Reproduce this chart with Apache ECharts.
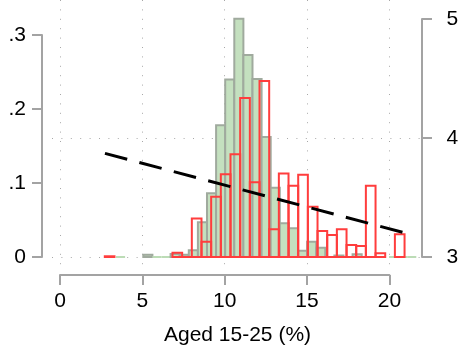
<!DOCTYPE html>
<html>
<head>
<meta charset="utf-8">
<script src="https://cdn.jsdelivr.net/npm/echarts@6/dist/echarts.min.js"></script>
<style>
  html, body { margin: 0; padding: 0; background: #ffffff; }
  #chart { width: 464px; height: 352px; }
</style>
</head>
<body>
<div id="chart"></div>
<script>
// Green histogram (density): equal-width bins starting at greenStart
const greenStart = 3.40;
const greenWidth = 0.5525;
const greenDensity = [
  0, null, null, 0.003, 0, 0, 0.004, 0.003, 0.009, 0.047,
  0.086, 0.178, 0.240, 0.322, 0.273, 0.2405, 0.162, 0.0937, 0.0455, 0.0388,
  0.0085, 0.0207, 0.0126, null, 0.002, null, 0.0036, null, null, null,
  0, 0, 0
];

// Red histogram (density), outline only
const redStart = 2.72;
const redWidth = 0.5871;
const redDensity = [
  0.001, null, null, null, null, null, null, 0.0058, 0, 0.052,
  0.0207, 0.0815, 0.1118, 0.139, 0.215, 0.101, 0.238, 0.0374, 0.113, 0.0964,
  0.111, 0.068, 0.0351, 0.0297, 0.0374, 0.0162, 0.0149, 0.0964, 0.005, null,
  0.0307
];

// Fitted line on the right-hand scale
const fitX = [2.73, 21.49];
const fitY = [3.871, 3.182];

// Axis ticks and labels
const xTicks = [0, 5, 10, 15, 20];
const leftTickLabels = ['0', '.1', '.2', '.3'];
const rightTickLabels = ['3', '4', '5'];
const xTitle = 'Aged 15-25 (%)';

const FONT = '"Liberation Sans", Arial, Helvetica, sans-serif';
const AXIS_GRAY = '#a3a3a3';
const DOT = { color: '#a8a8a8', width: 1, type: [1, 8.4] };

function histData(start, width, values) {
  const out = [];
  values.forEach((v, i) => {
    if (v !== null) out.push([start + i * width, start + (i + 1) * width, v]);
  });
  return out;
}

function histSeries(data, fill, stroke, zeroStroke, z) {
  return {
    type: 'custom',
    xAxisIndex: 0,
    yAxisIndex: 0,
    z: z,
    silent: true,
    encode: { x: [0, 1], y: 2 },
    data: data,
    renderItem(params, api) {
      const v = api.value(2);
      const p0 = api.coord([api.value(0), v]);
      const p1 = api.coord([api.value(1), 0]);
      if (v === 0) {
        return {
          type: 'line',
          shape: { x1: p0[0], y1: p1[1], x2: p1[0], y2: p1[1] },
          style: { stroke: zeroStroke, lineWidth: 2 }
        };
      }
      return {
        type: 'rect',
        shape: { x: p0[0], y: p0[1], width: p1[0] - p0[0], height: p1[1] - p0[1] },
        style: { fill: fill, stroke: stroke, lineWidth: 2 }
      };
    }
  };
}

const hidden = { show: false };
const hiddenAxis = (extra) => Object.assign({
  type: 'value', axisLine: hidden, axisTick: hidden, axisLabel: hidden, splitLine: hidden
}, extra);

const labelStyle = { color: '#000', fontSize: 21, fontFamily: FONT };

const chart = echarts.init(document.getElementById('chart'), null, { renderer: 'canvas' });
chart.setOption({
  animation: false,
  backgroundColor: '#ffffff',
  grid: [
    // 0: plot region holding the data
    { left: 52, top: 0, width: 371, height: 265, outerBoundsMode: 'none', containLabel: false },
    // 1: vertical dotted grid lines at the x ticks
    { left: 60, top: 0, width: 329.4, height: 265, outerBoundsMode: 'none', containLabel: false },
    // 2: horizontal dotted grid lines on the right scale
    { left: 52, top: 138, width: 371, height: 119, outerBoundsMode: 'none', containLabel: false },
    // 3: left axis
    { left: 42, top: 35, width: 10, height: 222, outerBoundsMode: 'none', containLabel: false },
    // 4: right axis
    { left: 422, top: 19, width: 10.5, height: 238, outerBoundsMode: 'none', containLabel: false },
    // 5: x axis
    { left: 60, top: 265, width: 329.4, height: 10, outerBoundsMode: 'none', containLabel: false }
  ],
  xAxis: [
    hiddenAxis({
      gridIndex: 0, min: -0.4857, max: 22.040,
      name: xTitle, nameLocation: 'middle', nameGap: 60,
      nameTextStyle: { color: '#000', fontSize: 21, fontFamily: FONT }
    }),
    hiddenAxis({
      gridIndex: 1, min: xTicks[0], max: xTicks[xTicks.length - 1], interval: 5,
      splitLine: { show: true, lineStyle: DOT }
    }),
    hiddenAxis({ gridIndex: 2, min: 0, max: 1 }),
    hiddenAxis({ gridIndex: 3, min: 0, max: 1 }),
    hiddenAxis({ gridIndex: 4, min: 0, max: 1 }),
    {
      type: 'value', gridIndex: 5, position: 'bottom',
      min: xTicks[0], max: xTicks[xTicks.length - 1], interval: 5,
      axisLine: { show: true, lineStyle: { color: AXIS_GRAY, width: 2 } },
      axisTick: { show: true, length: 10, inside: false, lineStyle: { color: AXIS_GRAY, width: 2 } },
      axisLabel: Object.assign({ show: true, margin: 16 }, labelStyle),
      splitLine: hidden
    }
  ],
  yAxis: [
    hiddenAxis({ gridIndex: 0, min: -0.010811, max: 0.347297 }),
    hiddenAxis({ gridIndex: 0, min: 2.932773, max: 5.159664 }),
    hiddenAxis({ gridIndex: 1, min: 0, max: 1 }),
    hiddenAxis({
      gridIndex: 2, min: 3, max: 4, interval: 1,
      splitLine: { show: true, lineStyle: DOT }
    }),
    {
      type: 'value', gridIndex: 3, position: 'left',
      min: 0, max: 0.3, interval: 0.1,
      axisLine: { show: true, lineStyle: { color: AXIS_GRAY, width: 2 } },
      axisTick: { show: true, length: 10, inside: false, lineStyle: { color: AXIS_GRAY, width: 2 } },
      axisLabel: Object.assign({ show: true, margin: 16, formatter: (v, i) => leftTickLabels[i] }, labelStyle),
      splitLine: hidden
    },
    {
      type: 'value', gridIndex: 4, position: 'right',
      min: 3, max: 5, interval: 1,
      axisLine: { show: true, lineStyle: { color: AXIS_GRAY, width: 2 } },
      axisTick: { show: true, length: 10, inside: false, lineStyle: { color: AXIS_GRAY, width: 2 } },
      axisLabel: Object.assign({ show: true, margin: 14, formatter: (v, i) => rightTickLabels[i] }, labelStyle),
      splitLine: hidden
    },
    hiddenAxis({ gridIndex: 5, min: 0, max: 1 })
  ],
  series: [
    histSeries(histData(greenStart, greenWidth, greenDensity), '#c4e0bf', '#a0aa9e', '#bcdcb6', 2),
    histSeries(histData(redStart, redWidth, redDensity), 'rgba(0,0,0,0)', '#ff3d3d', '#ff3d3d', 3),
    {
      type: 'line',
      xAxisIndex: 0,
      yAxisIndex: 1,
      z: 4,
      silent: true,
      symbol: 'none',
      data: fitX.map((x, i) => [x, fitY[i]]),
      lineStyle: { color: '#000', width: 3, type: [23, 12.6], cap: 'butt' }
    }
  ]
});
</script>
</body>
</html>
